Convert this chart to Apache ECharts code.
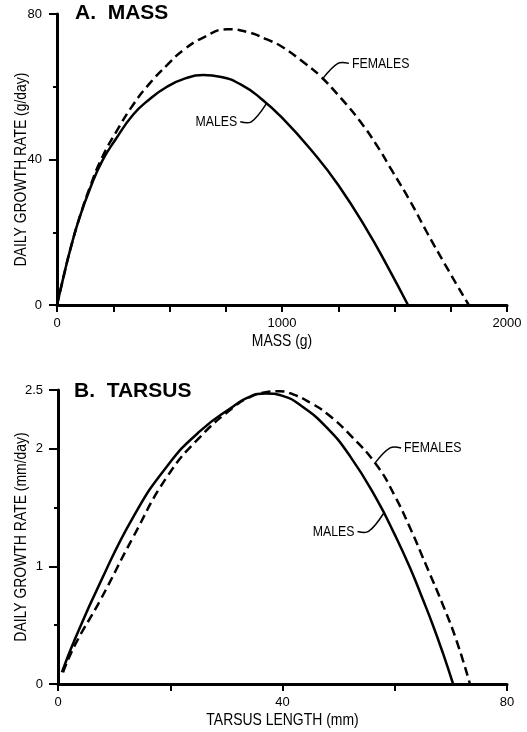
<!DOCTYPE html>
<html><head><meta charset="utf-8">
<script src="https://cdn.jsdelivr.net/npm/echarts@6/dist/echarts.min.js"></script>
<style>html,body{margin:0;padding:0;background:#fff}#c{width:527px;height:732px}</style>
</head><body><div id="c"></div>
<script>
// ---- data ----
const massMales = [[0,0],[30,8],[60,15.5],[100,24],[150,32.5],[200,39.5],[260,45.5],[338,52.3],[410,56.5],[489,60],[570,62.3],[649,63.2],[730,62.7],[820,60.5],[902,57],[1000,51.5],[1138,42],[1250,33],[1378,20.6],[1470,10.5],[1560,0]];
const massFemales = [[0,0],[30,8],[60,15.5],[100,24],[150,33],[200,40.5],[267,48],[340,55.2],[413,61],[490,66],[560,70],[650,73.5],[756,75.8],[850,75],[933,73],[1000,71],[1100,66.5],[1169,63],[1260,57],[1347,50.5],[1420,44],[1493,36.5],[1570,28.5],[1644,20],[1740,9.5],[1830,0]];
const tarsusMales = [[0.7,0.1],[3,0.38],[7.5,0.86],[13.4,1.42],[19.4,1.85],[25.3,2.15],[31.2,2.36],[34,2.44],[37,2.47],[40,2.45],[43.5,2.36],[47.9,2.18],[52,1.94],[56.8,1.57],[60,1.27],[62.7,0.99],[65,0.72],[66.8,0.5],[68.6,0.26],[70.4,0]];
const tarsusFemales = [[0.9,0.1],[3,0.33],[7.5,0.71],[13.4,1.25],[19.4,1.76],[25.3,2.1],[31.2,2.35],[34.2,2.44],[37,2.48],[39.5,2.49],[42,2.46],[45,2.39],[47.9,2.3],[52,2.12],[56.8,1.86],[60,1.6],[62.7,1.33],[65.5,1.02],[68.6,0.67],[71,0.37],[73.4,0]];
const massXLabels = [0, 1000, 2000];
const tarsusXLabels = [0, 40, 80];
const titles = ['A.  MASS', 'B.  TARSUS'];
const xNames = ['MASS (g)', 'TARSUS LENGTH (mm)'];
const yNames = ['DAILY GROWTH RATE (g/day)', 'DAILY GROWTH RATE (mm/day)'];
const annotations = [
  {text: 'MALES',   grid: 0, at: [930, 55.3], side: 'left'},
  {text: 'FEMALES', grid: 0, at: [1182, 62.3], side: 'right'},
  {text: 'FEMALES', grid: 1, at: [56.5, 1.88], side: 'right'},
  {text: 'MALES',   grid: 1, at: [58, 1.45], side: 'left'}
];

const FONT = '"Liberation Sans",Arial,Helvetica,sans-serif';
const BLACK = '#000';
const SQUEEZE = 0.82;
const grids = [
  {left: 57, top: 14, width: 450, height: 291},
  {left: 58, top: 390, width: 449, height: 294}
];

function xAxis(grid, min, max, interval, labels) {
  return {
    gridIndex: grid, type: 'value', min: min, max: max, interval: interval,
    axisLine: {show: true, onZero: false, lineStyle: {color: BLACK, width: 3}},
    axisTick: {show: true, length: 7, lineStyle: {color: BLACK, width: 2}},
    splitLine: {show: false},
    axisLabel: {margin: 12, color: BLACK, fontSize: 13, fontFamily: FONT,
      formatter: v => labels.indexOf(v) >= 0 ? String(v) : ''}
  };
}

function curve(name, xi, data, dashed) {
  return {name: name, type: 'line', xAxisIndex: xi, yAxisIndex: xi, data: data, showSymbol: false,
    smooth: 0.5,
    lineStyle: {color: BLACK, width: 2.5, type: dashed ? [9, 5] : 'solid'}, z: 3};
}

const chart = echarts.init(document.getElementById('c'), null, {renderer: 'canvas'});
chart.setOption({
  animation: false,
  backgroundColor: '#fff',
  title: [
    {text: titles[0], left: 75, top: 3, padding: 0, textStyle: {fontSize: 21, fontWeight: 'bold', color: BLACK, fontFamily: FONT}},
    {text: titles[1], left: 74, top: 381, padding: 0, textStyle: {fontSize: 21, fontWeight: 'bold', color: BLACK, fontFamily: FONT}}
  ],
  grid: grids.map(g => Object.assign({outerBoundsMode: 'none'}, g)),
  xAxis: [
    xAxis(0, 0, 2000, 250, massXLabels),
    xAxis(1, 0, 80, 20, tarsusXLabels)
  ],
  yAxis: [
    {gridIndex: 0, type: 'value', min: 0, max: 80, interval: 40,
      axisLine: {show: true, onZero: false, lineStyle: {color: BLACK, width: 3}},
      axisTick: {show: true, length: 8, lineStyle: {color: BLACK, width: 2}},
      minorTick: {show: true, splitNumber: 2, length: 4, lineStyle: {color: BLACK, width: 2}},
      splitLine: {show: false}, minorSplitLine: {show: false},
      axisLabel: {margin: 15, color: BLACK, fontSize: 13, fontFamily: FONT}},
    {gridIndex: 1, type: 'value', min: 0, max: 2.5, interval: 1,
      axisLine: {show: true, onZero: false, lineStyle: {color: BLACK, width: 3}},
      axisTick: {show: true, length: 9, lineStyle: {color: BLACK, width: 2}},
      splitLine: {show: false},
      axisLabel: {margin: 15, color: BLACK, fontSize: 13, fontFamily: FONT}},
    {gridIndex: 1, type: 'value', min: 0, max: 2.5, interval: 0.5, position: 'left',
      axisLine: {show: false}, axisLabel: {show: false}, splitLine: {show: false},
      axisTick: {show: true, length: 4, lineStyle: {color: BLACK, width: 2}}}
  ],
  series: [
    curve('massMales', 0, massMales, false),
    curve('massFemales', 0, massFemales, true),
    curve('tarsusMales', 1, tarsusMales, false),
    curve('tarsusFemales', 1, tarsusFemales, true)
  ]
});

const graphics = [];
// axis names (condensed like the original typeface)
grids.forEach((g, i) => {
  const cx = g.left + g.width / 2;
  graphics.push({type: 'text', x: cx, y: g.top + g.height + 36, scaleX: SQUEEZE,
    style: {text: xNames[i], fill: BLACK, fontSize: 17, fontFamily: FONT, align: 'center', verticalAlign: 'middle'}});
  const cy = g.top + g.height / 2 + (i === 0 ? 10 : 0);
  graphics.push({type: 'text', x: 21, y: cy, rotation: Math.PI / 2, scaleX: SQUEEZE,
    style: {text: yNames[i], fill: BLACK, fontSize: 17, fontFamily: FONT, align: 'center', verticalAlign: 'middle'}});
});
// annotation labels with leader lines, anchored on the curves in data coordinates
annotations.forEach(a => {
  const p = chart.convertToPixel({gridIndex: a.grid}, a.at);
  const s = a.side === 'left' ? -1 : 1;
  const dy = a.side === 'left' ? 18 : -15;
  const bend = [p[0] + s * 15, p[1] + dy];
  const end = [p[0] + s * 26, p[1] + dy];
  graphics.push({type: 'polyline', shape: {points: [p, bend, end], smooth: 0.35},
    style: {stroke: BLACK, lineWidth: 1.5, fill: null}, z: 10});
  graphics.push({type: 'text', x: end[0] + s * 3, y: end[1], scaleX: SQUEEZE,
    style: {text: a.text, fill: BLACK, fontSize: 15, fontFamily: FONT,
      align: a.side === 'left' ? 'right' : 'left', verticalAlign: 'middle'}, z: 10});
});
chart.setOption({graphic: graphics});
</script>
</body></html>
